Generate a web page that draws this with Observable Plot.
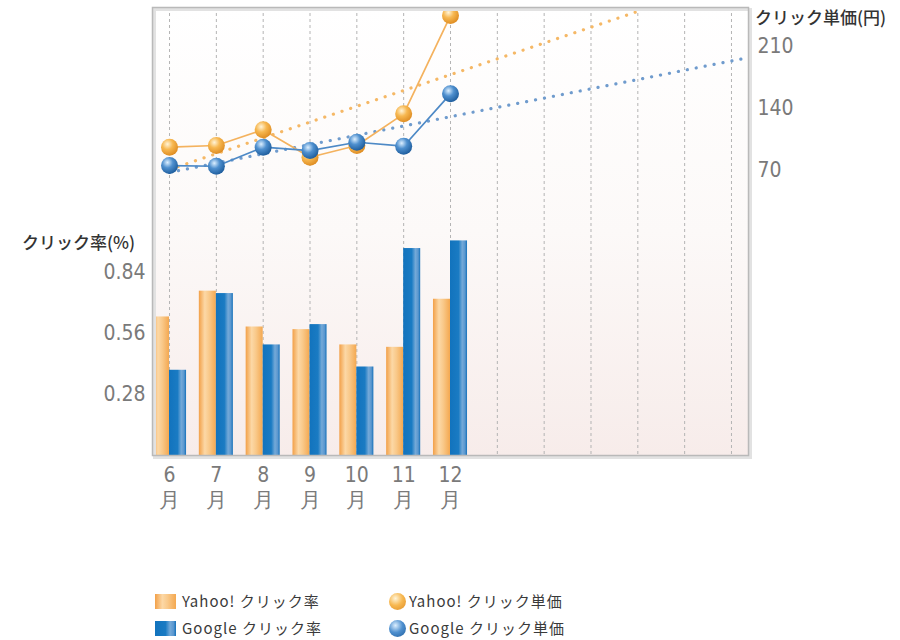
<!DOCTYPE html>
<html><head><meta charset="utf-8">
<script src="https://cdn.jsdelivr.net/npm/d3@7"></script>
<script src="https://cdn.jsdelivr.net/npm/@observablehq/plot@0.6"></script>
<style>
body{margin:0;background:#fff;}
#wrap{position:relative;width:900px;height:640px;overflow:hidden;font-family:"Noto Sans CJK JP",sans-serif;}
#wrap svg{position:absolute;left:0;top:0;}
.title{position:absolute;font-size:17px;color:#333;font-weight:500;white-space:nowrap;line-height:1;}
.leg{position:absolute;font-size:15px;color:#3a3a3a;white-space:nowrap;line-height:1;letter-spacing:1px;}
.sw{position:absolute;width:21px;height:15px;}
.ball{position:absolute;width:17px;height:17px;border-radius:50%;}
</style></head><body><div id="wrap"></div>
<script>
// ---- data ----
const months = ["6", "7", "8", "9", "10", "11", "12"];
const slotLabels = ["6", "7", "8", "9", "10", "11", "12", "", "", "", "", "", ""]; // 13 slots, last 6 unlabeled
const yahooRate  = [0.634, 0.752, 0.588, 0.576, 0.506, 0.495, 0.715];
const googleRate = [0.390, 0.741, 0.506, 0.599, 0.405, 0.947, 0.982];
const yahooCost  = [95.6, 97.5, 115.3, 84.2, 97.5, 133.4, 244.9];
const googleCost = [74.8, 74.0, 95.6, 91.8, 101.2, 96.7, 156.1];
const rateTicks = [0.28, 0.56, 0.84];
const costTicks = [70, 140, 210];

const rows = months.map((m, i) => ({slot: i, month: m,
  yahooRate: yahooRate[i], googleRate: googleRate[i],
  yahooCost: yahooCost[i], googleCost: googleCost[i]}));
const slots = slotLabels.map((d, i) => i);

// linear trend (least squares) of each cost series, extended across all slots
function trend(vals) {
  const xs = vals.map((d, i) => i);
  const mx = d3.mean(xs), my = d3.mean(vals);
  const b = d3.sum(xs, (x, i) => (x - mx) * (vals[i] - my)) / d3.sum(xs, x => (x - mx) ** 2);
  const a = my - b * mx;
  return [0, slots.length].map(x => ({x, y: a + b * x}));
}
const trendY = trend(yahooCost), trendG = trend(googleCost);

// ---- layout ----
const W = 900, H = 530, mL = 152, mR = 152, mT = 7, mB = 75;
const padIn = 0.273;
const step = (W - mL - mR) / (slots.length - padIn);
const bw = step * (1 - padIn);
const half = (1 - padIn) / 2;
const numFont = '"DejaVu Sans Condensed","Liberation Sans Narrow","DejaVu Sans",sans-serif';

const defs = `
<linearGradient id="bgGrad" x1="0" y1="0" x2="0" y2="1">
  <stop offset="0" stop-color="#ffffff"/><stop offset="0.5" stop-color="#fcf9f8"/><stop offset="1" stop-color="#f7ecea"/>
</linearGradient>
<linearGradient id="barYg" x1="0" y1="0" x2="1" y2="0">
  <stop offset="0" stop-color="#f2a048"/><stop offset="0.35" stop-color="#fcd8a6"/><stop offset="0.6" stop-color="#f9c98a"/><stop offset="1" stop-color="#f4a850"/>
</linearGradient>
<linearGradient id="barGg" x1="0" y1="0" x2="1" y2="0">
  <stop offset="0" stop-color="#1273bd"/><stop offset="0.5" stop-color="#1a7bc3"/><stop offset="0.72" stop-color="#74a9d8"/><stop offset="0.88" stop-color="#5a97cf"/><stop offset="1" stop-color="#1470b9"/>
</linearGradient>
<radialGradient id="ballY" cx="0.38" cy="0.32" r="0.7">
  <stop offset="0" stop-color="#fff4d8"/><stop offset="0.45" stop-color="#f7b851"/><stop offset="1" stop-color="#de8c22"/>
</radialGradient>
<radialGradient id="ballG" cx="0.38" cy="0.32" r="0.7">
  <stop offset="0" stop-color="#dcefff"/><stop offset="0.45" stop-color="#4f90cf"/><stop offset="1" stop-color="#1d5c9c"/>
</radialGradient>`;

const plotA = Plot.plot({
  width: W, height: H, marginLeft: mL, marginRight: mR, marginTop: mT, marginBottom: mB,
  style: {background: "transparent", overflow: "visible"},
  x: {type: "band", domain: slots, paddingInner: padIn, paddingOuter: 0, align: 0.5, round: false},
  y: {domain: [0, 2.05]},
  marks: [
    Plot.frame({fill: "url(#bgGrad)", stroke: "none"}),
    Plot.ruleX(slots, {x: d => d, stroke: "#b4b4b4", strokeDasharray: "3,3", strokeWidth: 1}),
    Plot.barY(rows, {x: "slot", y: "yahooRate", fill: "url(#barYg)", insetRight: bw / 2}),
    Plot.barY(rows, {x: "slot", y: "googleRate", fill: "url(#barGg)", insetLeft: bw / 2}),
    Plot.axisY({ticks: rateTicks, tickFormat: d3.format(".2f"), tickSize: 0, tickPadding: 7,
      fontSize: 21, fill: "#7a7a7a", label: null, fontFamily: numFont}),
    Plot.axisX({tickFormat: i => slotLabels[i] ? slotLabels[i] + "\n月" : "", tickSize: 0, tickPadding: 9,
      fontSize: 21, fill: "#7a7a7a", label: null, lineHeight: 1.18, fontFamily: numFont})
  ]
});

const plotB = Plot.plot({
  width: W, height: H, marginLeft: mL, marginRight: mR, marginTop: mT, marginBottom: mB,
  style: {background: "transparent", overflow: "visible"},
  x: {type: "linear", domain: [-half, slots.length - 1 + half], axis: null},
  y: {domain: [-254, 254]},
  marks: [
    Plot.line(trendY, {x: "x", y: "y", stroke: "#f5b866", strokeWidth: 3.2, strokeDasharray: "0.1 9", strokeLinecap: "round", clip: true}),
    Plot.line(trendG, {x: "x", y: "y", stroke: "#6f9bcd", strokeWidth: 3.2, strokeDasharray: "0.1 9", strokeLinecap: "round", clip: true}),
    Plot.line(rows, {x: "slot", y: "yahooCost", stroke: "#f4b25e", strokeWidth: 1.7}),
    Plot.dot(rows, {x: "slot", y: "yahooCost", r: 8.5, fill: "url(#ballY)", stroke: "none"}),
    Plot.line(rows, {x: "slot", y: "googleCost", stroke: "#4d89c6", strokeWidth: 1.7}),
    Plot.dot(rows, {x: "slot", y: "googleCost", r: 8.5, fill: "url(#ballG)", stroke: "none"}),
    Plot.axisY({anchor: "right", ticks: costTicks, tickSize: 0, tickPadding: 9, fontSize: 21,
      fill: "#7a7a7a", label: null, fontFamily: numFont}),
    Plot.frame({stroke: "#e2e2e2", strokeWidth: 3, dx: 2, dy: 2}),
    Plot.frame({stroke: "#b9b9b9", strokeWidth: 1.5})
  ]
});

const wrap = document.getElementById("wrap");
for (const p of [plotA, plotB]) {
  d3.select(p).insert("defs", ":first-child").html(defs);
  wrap.appendChild(p);
}

function add(cls, text, x, y, extra) {
  const d = document.createElement("div");
  d.className = cls; if (text) d.textContent = text;
  d.style.left = x + "px"; d.style.top = y + "px";
  if (extra) Object.assign(d.style, extra);
  wrap.appendChild(d);
}
add("title", "クリック率(%)", 22, 233);
add("title", "クリック単価(円)", 755, 8);

add("sw", null, 155, 594, {background: "linear-gradient(to right,#f2a048,#fcd8a6 35%,#f9c98a 60%,#f4a850)"});
add("leg", "Yahoo! クリック率", 182, 593);
add("sw", null, 155, 621, {background: "linear-gradient(to right,#1273bd,#1a7bc3 50%,#74a9d8 72%,#5a97cf 88%,#1470b9)"});
add("leg", "Google クリック率", 182, 620);
add("ball", null, 389, 593, {background: "radial-gradient(circle at 38% 32%,#fff4d8,#f7b851 45%,#de8c22)"});
add("leg", "Yahoo! クリック単価", 409, 593);
add("ball", null, 389, 620, {background: "radial-gradient(circle at 38% 32%,#dcefff,#4f90cf 45%,#1d5c9c)"});
add("leg", "Google クリック単価", 409, 620);
</script></body></html>
